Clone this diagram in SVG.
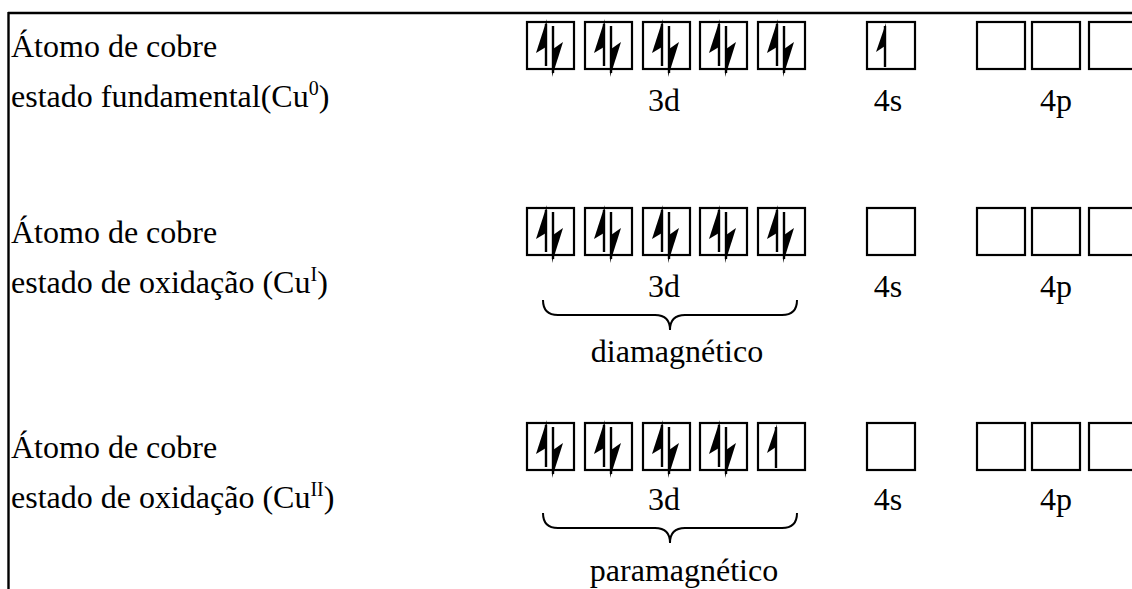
<svg xmlns="http://www.w3.org/2000/svg" width="1132" height="589" viewBox="0 0 1132 589">
<style>
.t{font-family:"Liberation Serif","Times New Roman",serif;font-size:32px;fill:#000}
.m{text-anchor:middle}
.b{fill:#fff;stroke:#000;stroke-width:2.2}
.s{stroke:#000;stroke-width:2.4;fill:none}
.h{fill:#000;stroke:none}
.br{fill:none;stroke:#000;stroke-width:2}
</style>
<defs>
<g id="up"><line x1="19" y1="2" x2="19" y2="44" class="s"/><polygon class="h" points="20,-3 9,31 19,25"/></g>
<g id="dn"><line x1="26" y1="4" x2="26" y2="51" class="s"/><polygon class="h" points="25,55 36,20 26,27"/></g>
<g id="up1"><line x1="18" y1="4" x2="18" y2="45" class="s"/><polygon class="h" points="19,1 9,30 18,24"/></g>
</defs>
<g id="frame"><line x1="8" y1="13" x2="1132" y2="13" class="s"/><line x1="8.5" y1="12" x2="8.5" y2="589" class="s"/></g>
<g id="row1">
<text class="t" x="11" y="57">Átomo de cobre</text>
<text class="t" x="11" y="107">estado fundamental(Cu<tspan font-size="20" dy="-12">0</tspan><tspan dy="12">)</tspan></text>
<g transform="translate(527,22)"><rect class="b" width="47" height="47"/><use href="#up"/><use href="#dn"/></g>
<g transform="translate(585,22)"><rect class="b" width="47" height="47"/><use href="#up"/><use href="#dn"/></g>
<g transform="translate(643,22)"><rect class="b" width="47" height="47"/><use href="#up"/><use href="#dn"/></g>
<g transform="translate(700,22)"><rect class="b" width="47" height="47"/><use href="#up"/><use href="#dn"/></g>
<g transform="translate(758,22)"><rect class="b" width="47" height="47"/><use href="#up"/><use href="#dn"/></g>
<g transform="translate(867,22)"><rect class="b" width="48" height="47"/><use href="#up1"/></g>
<rect class="b" x="977" y="22" width="48" height="47"/><rect class="b" x="1032" y="22" width="48" height="47"/><rect class="b" x="1089" y="22" width="48" height="47"/>
<text class="t m" x="664" y="111">3d</text><text class="t m" x="888" y="111">4s</text><text class="t m" x="1056" y="111">4p</text>
</g>
<g id="row2">
<text class="t" x="11" y="243">Átomo de cobre</text>
<text class="t" x="11" y="293">estado de oxidação (Cu<tspan font-size="20" dy="-12">I</tspan><tspan dy="12">)</tspan></text>
<g transform="translate(527,208)"><rect class="b" width="47" height="47"/><use href="#up"/><use href="#dn"/></g>
<g transform="translate(585,208)"><rect class="b" width="47" height="47"/><use href="#up"/><use href="#dn"/></g>
<g transform="translate(643,208)"><rect class="b" width="47" height="47"/><use href="#up"/><use href="#dn"/></g>
<g transform="translate(700,208)"><rect class="b" width="47" height="47"/><use href="#up"/><use href="#dn"/></g>
<g transform="translate(758,208)"><rect class="b" width="47" height="47"/><use href="#up"/><use href="#dn"/></g>
<rect class="b" x="867" y="208" width="48" height="47"/>
<rect class="b" x="977" y="208" width="48" height="47"/><rect class="b" x="1032" y="208" width="48" height="47"/><rect class="b" x="1089" y="208" width="48" height="47"/>
<text class="t m" x="664" y="297">3d</text><text class="t m" x="888" y="297">4s</text><text class="t m" x="1056" y="297">4p</text>
<path class="br" d="M543,300 Q543,315 558,315 L655,315 Q670,315 670,330 Q670,315 685,315 L782,315 Q797,315 797,300"/>
<text class="t m" x="677" y="362">diamagnético</text>
</g>
<g id="row3">
<text class="t" x="11" y="458">Átomo de cobre</text>
<text class="t" x="11" y="508">estado de oxidação (Cu<tspan font-size="20" dy="-12">II</tspan><tspan dy="12">)</tspan></text>
<g transform="translate(527,423)"><rect class="b" width="47" height="47"/><use href="#up"/><use href="#dn"/></g>
<g transform="translate(585,423)"><rect class="b" width="47" height="47"/><use href="#up"/><use href="#dn"/></g>
<g transform="translate(643,423)"><rect class="b" width="47" height="47"/><use href="#up"/><use href="#dn"/></g>
<g transform="translate(700,423)"><rect class="b" width="47" height="47"/><use href="#up"/><use href="#dn"/></g>
<g transform="translate(758,423)"><rect class="b" width="47" height="47"/><use href="#up1"/></g>
<rect class="b" x="867" y="423" width="48" height="47"/>
<rect class="b" x="977" y="423" width="48" height="47"/><rect class="b" x="1032" y="423" width="48" height="47"/><rect class="b" x="1089" y="423" width="48" height="47"/>
<text class="t m" x="664" y="510">3d</text><text class="t m" x="888" y="510">4s</text><text class="t m" x="1056" y="510">4p</text>
<path class="br" d="M543,513 Q543,528 558,528 L655,528 Q670,528 670,543 Q670,528 685,528 L782,528 Q797,528 797,513"/>
<text class="t m" x="684" y="581">paramagnético</text>
</g>
</svg>
